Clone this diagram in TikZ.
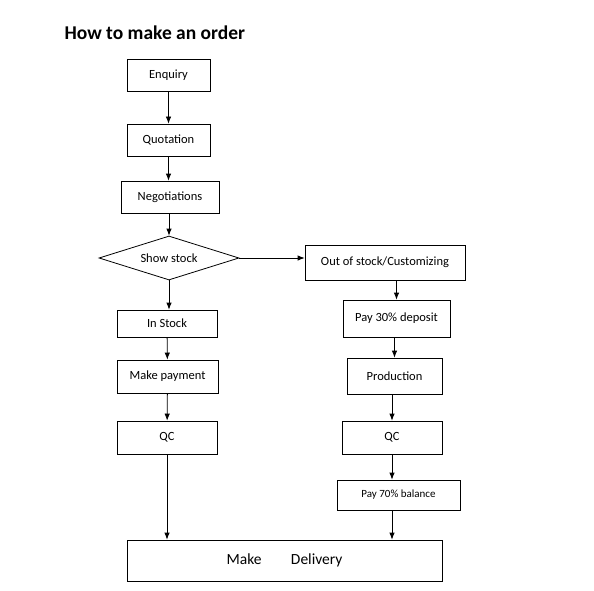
\documentclass[tikz,border=0pt]{standalone}
\usepackage{fontspec}
\setmainfont{Carlito}
\usetikzlibrary{shapes.geometric,arrows.meta}
\begin{document}
\begin{tikzpicture}[x=1pt,y=-1pt]
\tikzset{stepbox/.style={draw, line width=0.8pt, inner sep=0pt, font=\fontsize{12.5}{14}\selectfont},
  flow/.style={draw, line width=0.8pt, -{Latex[length=7pt,width=5.5pt]}}}
\useasboundingbox (0,0) rectangle (594,591);
\node[anchor=base west, font=\fontsize{19.5}{22}\bfseries] (title) at (61,40) {How to make an order};
% left branch
\node[stepbox, minimum width=83, minimum height=32] (enq) at (168.5,75) {Enquiry};
\node[stepbox, minimum width=83, minimum height=32] (quo) at (168.5,140) {Quotation};
\node[stepbox, minimum width=98, minimum height=32] (neg) at (170,197) {Negotiations};
\node[draw, diamond, aspect=3.18, line width=0.8pt, minimum width=140, minimum height=44, inner sep=0pt, font=\fontsize{12.5}{14}\selectfont] (show) at (169,258) {Show stock};
\node[stepbox, minimum width=100, minimum height=27] (instock) at (167,323.5) {In Stock};
\node[stepbox, minimum width=101, minimum height=33] (pay) at (167.5,376.5) {Make payment};
\node[stepbox, minimum width=100, minimum height=33] (qcl) at (167,437.5) {QC};
% right branch
\node[stepbox, minimum width=160, minimum height=35] (out) at (385,262.5) {Out of stock/Customizing};
\node[stepbox, minimum width=107, minimum height=37] (dep) at (396.5,318.5) {Pay 30\% deposit};
\node[stepbox, minimum width=95, minimum height=36] (prod) at (394.5,376) {Production};
\node[stepbox, minimum width=100, minimum height=33] (qcr) at (392,437.5) {QC};
\node[stepbox, minimum width=123, minimum height=30, font=\fontsize{11}{13}\selectfont] (bal) at (398.5,495) {Pay 70\% balance};
\node[stepbox, minimum width=315, minimum height=41, font=\fontsize{15.5}{18}\selectfont] (deliv) at (284.5,560.5) {Make\hspace{1.9em}Delivery};
% connectors
\path[flow] (enq) -- (quo);
\path[flow] (quo) -- (quo.south |- neg.north);
\path[flow] (show.north |- neg.south) -- (show.north);
\path[flow] (show.south) -- (show.south |- instock.north);
\path[flow] (show.east) -- (show.east -| out.west);
\path[flow] (instock) -- (pay);
\path[flow] (pay) -- (qcl);
\path[flow] (qcl.south) -- (qcl.south |- deliv.north);
\path[flow] (out.south -| dep.north) -- (dep.north);
\path[flow] (dep.south -| prod.north) -- (prod.north);
\path[flow] (prod.south -| qcr.north) -- (qcr.north);
\path[flow] (qcr.south) -- (qcr.south |- bal.north);
\path[flow] (qcr.south |- bal.south) -- (qcr.south |- deliv.north);
\end{tikzpicture}
\end{document}
